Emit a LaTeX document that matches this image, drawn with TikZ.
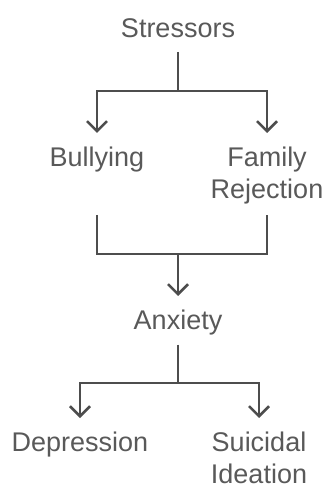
\documentclass[tikz,border=0pt]{standalone}
\usepackage{fontspec}
\setmainfont{Liberation Sans}
\usetikzlibrary{arrows.meta}
\definecolor{txtgray}{HTML}{595959}
\definecolor{linegray}{HTML}{4D4D4D}
\begin{document}
\begin{tikzpicture}[x=0.5pt,y=-0.5pt,
	lbl/.style={font=\fontsize{13.5pt}{16pt}\selectfont, text=txtgray, inner sep=0pt, anchor=north, align=center},
	oneline/.style={lbl, text depth=0.21em},
	link/.style={draw=linegray, line width=1.25pt},
	gapout/.style={shorten <=5pt},
	tip/.style={-{Straight Barb[length=5pt,width=10pt]}, shorten >=7pt}]
	\useasboundingbox (0,0) rectangle (327,490);
	
	\node[oneline] (stress) at (178,18) {Stressors};
	\node[oneline] (bully) at (97,147) {Bullying};
	\node[lbl] (fam) at (267,147) {Family\\Rejection};
	\node[oneline] (anx) at (178,310) {Anxiety};
	\node[oneline] (dep) at (80,432) {Depression};
	\node[lbl] (suic) at (259,432) {Suicidal\\Ideation};
	
	\coordinate (j1) at (178,91);
	\coordinate (j2) at (178,254);
	\coordinate (j3) at (178,383);
	
	% stressors split
	\draw[link,gapout] (stress) -- (j1);
	\draw[link,tip] (j1) -| (bully);
	\draw[link,tip] (j1) -| (fam);
	
	% merge into anxiety
	\draw[link,gapout,shorten >=5pt]
	(bully.south |- fam.south) |- (j2) -| (fam);
	\draw[link,tip] (j2) -- (anx);
	
	% anxiety split
	\draw[link,gapout] (anx) -- (j3);
	\draw[link,tip] (j3) -| (dep);
	\draw[link,tip] (j3) -| (suic);
	
\end{tikzpicture}
\end{document}
